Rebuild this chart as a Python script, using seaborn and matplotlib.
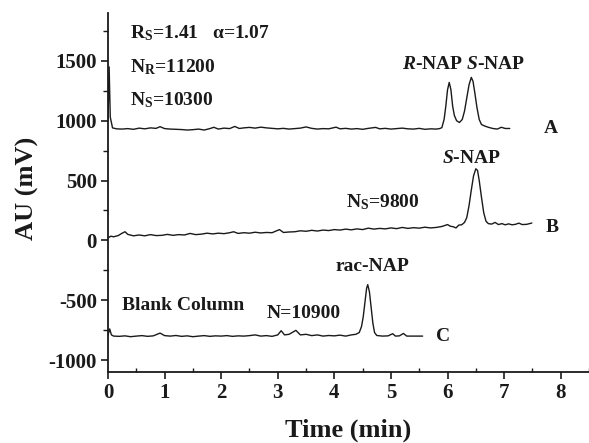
import matplotlib
matplotlib.use("Agg")
import matplotlib.pyplot as plt
import seaborn as sns
import pandas as pd
from matplotlib.ticker import MultipleLocator

# ---------------- data ----------------
time_A = [0.00, 0.02, 0.04, 0.08, 0.15, 0.25, 0.35, 0.45, 0.55, 0.65, 0.75, 0.85, 0.92, 1.00,
          1.10, 1.20, 1.30, 1.40, 1.50, 1.60, 1.70, 1.80, 1.87, 1.95, 2.05, 2.15, 2.24, 2.32,
          2.40, 2.50, 2.60, 2.70, 2.80, 2.90, 3.00, 3.10, 3.20, 3.30, 3.40, 3.50, 3.60, 3.70,
          3.80, 3.90, 4.03, 4.10, 4.20, 4.30, 4.40, 4.50, 4.60, 4.73, 4.80, 4.90, 5.00, 5.10,
          5.20, 5.30, 5.40, 5.50, 5.60, 5.70, 5.80, 5.86, 5.90, 5.94, 5.97, 6.00, 6.03, 6.06,
          6.09, 6.12, 6.16, 6.21, 6.26, 6.30, 6.34, 6.38, 6.42, 6.45, 6.48, 6.52, 6.56, 6.60,
          6.66, 6.72, 6.80, 6.88, 6.95, 7.02, 7.10]
au_A = [1000, 1450, 1030, 940, 932, 930, 934, 928, 938, 932, 940, 936, 950, 934,
        930, 928, 926, 922, 925, 930, 922, 934, 945, 930, 938, 934, 952, 935,
        940, 944, 938, 946, 940, 936, 932, 936, 930, 934, 938, 948, 936, 930,
        934, 932, 946, 932, 936, 930, 934, 928, 936, 944, 932, 936, 930, 934,
        938, 932, 930, 936, 928, 932, 930, 934, 942, 1012, 1123, 1258, 1320, 1258,
        1123, 1045, 1000, 985, 1010, 1080, 1190, 1300, 1362, 1330, 1240, 1110, 1010, 968,
        955, 945, 935, 930, 945, 935, 935]

time_B = [0.00, 0.05, 0.10, 0.18, 0.25, 0.30, 0.35, 0.45, 0.55, 0.65, 0.75, 0.85, 0.95, 1.05,
          1.15, 1.25, 1.35, 1.45, 1.55, 1.65, 1.75, 1.85, 1.95, 2.05, 2.15, 2.22, 2.30, 2.40,
          2.50, 2.60, 2.70, 2.80, 2.90, 3.03, 3.10, 3.20, 3.30, 3.40, 3.50, 3.60, 3.70, 3.80,
          3.90, 4.00, 4.10, 4.20, 4.30, 4.40, 4.50, 4.60, 4.70, 4.80, 4.90, 5.00, 5.10, 5.20,
          5.30, 5.40, 5.50, 5.60, 5.70, 5.80, 5.90, 6.00, 6.05, 6.10, 6.15, 6.20, 6.25, 6.30,
          6.34, 6.38, 6.42, 6.46, 6.50, 6.53, 6.56, 6.60, 6.64, 6.68, 6.72, 6.78, 6.84, 6.90,
          6.96, 7.02, 7.08, 7.14, 7.20, 7.26, 7.32, 7.40, 7.49]
au_B = [20, 35, 30, 40, 60, 72, 50, 38, 45, 38, 48, 40, 42, 50,
        42, 48, 45, 58, 48, 52, 60, 54, 60, 56, 64, 72, 58, 64,
        60, 68, 62, 66, 64, 90, 66, 70, 72, 80, 76, 84, 78, 86,
        82, 90, 86, 94, 88, 96, 90, 102, 94, 100, 96, 104, 98, 108,
        100, 106, 102, 110, 104, 108, 116, 132, 118, 114, 104, 128, 130, 150,
        190, 290, 420, 540, 598, 585, 500, 360, 230, 160, 140, 136, 150, 132,
        140, 130, 138, 130, 134, 144, 132, 134, 145]

time_C = [0.00, 0.03, 0.06, 0.10, 0.20, 0.30, 0.40, 0.50, 0.60, 0.70, 0.80, 0.92, 1.00, 1.10,
          1.20, 1.30, 1.40, 1.50, 1.60, 1.70, 1.80, 1.90, 2.00, 2.10, 2.20, 2.30, 2.40, 2.50,
          2.60, 2.70, 2.80, 2.90, 3.00, 3.06, 3.12, 3.20, 3.32, 3.40, 3.50, 3.60, 3.70, 3.80,
          3.90, 4.00, 4.10, 4.20, 4.30, 4.38, 4.44, 4.48, 4.51, 4.54, 4.57, 4.59, 4.62, 4.65,
          4.68, 4.71, 4.75, 4.85, 4.95, 5.03, 5.08, 5.15, 5.22, 5.28, 5.40, 5.56]
au_C = [-790, -740, -790, -800, -802, -798, -805, -800, -796, -802, -798, -775, -796, -800,
        -795, -802, -798, -805, -800, -796, -802, -798, -800, -796, -802, -798, -800, -796,
        -790, -800, -796, -802, -790, -755, -790, -785, -752, -790, -785, -796, -790, -800,
        -795, -798, -792, -800, -790, -785, -770, -720, -640, -520, -400, -370, -430, -560,
        -690, -770, -795, -800, -798, -780, -800, -798, -778, -800, -800, -800]

x_ticks = [0, 1, 2, 3, 4, 5, 6, 7, 8]
y_ticks = [-1000, -500, 0, 500, 1000, 1500]

# ---------------- style ----------------
sns.set_style("ticks")
plt.rcParams["font.family"] = ["Liberation Serif", "DejaVu Serif"]
plt.rcParams["font.weight"] = "bold"
plt.rcParams["axes.unicode_minus"] = False
plt.rcParams["mathtext.fontset"] = "custom"
plt.rcParams["mathtext.rm"] = "Liberation Serif:bold"
plt.rcParams["mathtext.it"] = "Liberation Serif:italic:bold"
plt.rcParams["mathtext.bf"] = "Liberation Serif:bold"

fig = plt.figure(figsize=(5.89, 4.43), dpi=100)
ax = fig.add_axes([108 / 589, 71 / 443, 481 / 589, 359 / 443])

ink = "#1a1a1a"
for t, v in [(time_A, au_A), (time_B, au_B), (time_C, au_C)]:
    df = pd.DataFrame({"t": t, "v": v})
    sns.lineplot(data=df, x="t", y="v", ax=ax, color=ink, linewidth=1.0,
                 sort=False, estimator=None)

ax.set_xlim(0, 8.5)
ax.set_ylim(-1100, 1900)
ax.set_xticks(x_ticks)
ax.set_yticks(y_ticks)
ax.xaxis.set_minor_locator(MultipleLocator(0.5))
ax.yaxis.set_minor_locator(MultipleLocator(250))
for s in ["top", "right"]:
    ax.spines[s].set_visible(False)
for s in ["left", "bottom"]:
    ax.spines[s].set_linewidth(1.3)
    ax.spines[s].set_color(ink)
ax.tick_params(axis="both", which="major", labelsize=15, length=5, width=1.2,
               color=ink, labelcolor=ink, pad=3)
ax.tick_params(axis="x", which="minor", direction="in", length=3, width=1.0, color=ink)
ax.tick_params(axis="y", which="minor", direction="out", length=3.5, width=1.0, color=ink)
for lab in ax.get_xticklabels() + ax.get_yticklabels():
    lab.set_fontweight("bold")
ax.set_xlabel("")
ax.set_ylabel("")

fig.text(348 / 589, 6 / 443, "Time (min)", ha="center", va="baseline",
         fontsize=19, fontweight="bold", color=ink)
fig.text(27 / 589, 1 - 188 / 443, "AU (mV)", ha="center", va="center",
         rotation=90, fontsize=19, fontweight="bold", color=ink)

fs = 14
kw = dict(fontsize=fs, fontweight="bold", color=ink, va="baseline")
ax.text(0.39, 1686, r"R$_\mathrm{S}$=1.41   α=1.07", ha="left", **kw)
ax.text(0.39, 1407, r"N$_\mathrm{R}$=11200", ha="left", **kw)
ax.text(0.39, 1129, r"N$_\mathrm{S}$=10300", ha="left", **kw)
ax.text(6.29, 1430, r"$\mathit{R}$-NAP $\mathit{S}$-NAP", ha="center", **kw)
ax.text(6.43, 650, r"$\mathit{S}$-NAP", ha="center", **kw)
ax.text(4.21, 273, r"N$_\mathrm{S}$=9800", ha="left", **kw)
ax.text(7.70, 900, "A", ha="left", **kw)
ax.text(7.73, 73, "B", ha="left", **kw)
ax.text(5.79, -842, "C", ha="left", **kw)
ax.text(4.675, -256, "rac-NAP", ha="center", **kw)
ax.text(2.80, -646, "N=10900", ha="left", **kw)
ax.text(0.24, -583, "Blank Column", ha="left", **kw)

fig.savefig("out.png", dpi=100)
